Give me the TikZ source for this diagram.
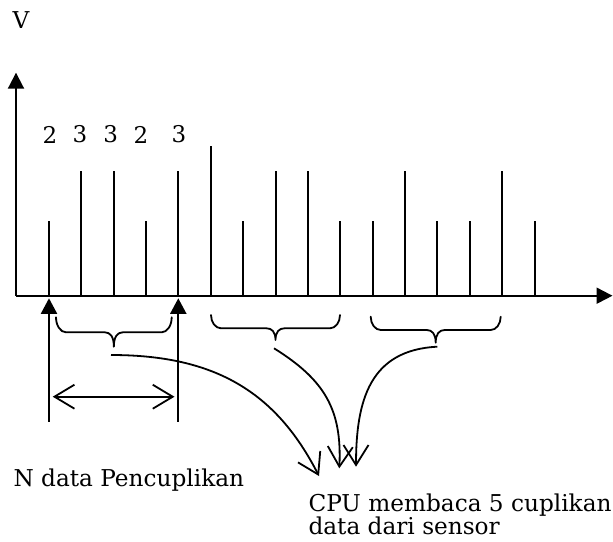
\documentclass[tikz,border=0pt]{standalone}
\usepackage{fontspec}
\setmainfont{DejaVu Serif}
\usetikzlibrary{arrows.meta}
\tikzset{
  axisline/.style={line width=2pt, -{Triangle[length=16pt,width=16pt]}},
  stemline/.style={line width=2pt},
  uparrow/.style={line width=2pt, -{Triangle[length=15.5pt,width=16pt]}},
  barbline/.style={line width=1.8pt, -{Straight Barb[length=20pt,width=25pt]}},
  dblarrow/.style={line width=1.8pt, {Straight Barb[length=20pt,width=24pt]}-{Straight Barb[length=20pt,width=24pt]}},
  txt/.style={inner sep=0pt, font=\fontsize{23.2}{27}\selectfont},
  numtxt/.style={inner sep=0pt, font=\fontsize{23}{27}\selectfont},
  pics/curly/.style n args={3}{code={
    \draw[line width=1.8pt, line join=round, line cap=round]
      (-#1,0) .. controls (-#1,{0.55*#2}) and ({-#1+4.5},#2) .. ({-#1+10},#2)
      -- (-9,#2) .. controls (-3.6,#2) and (0,{#2+0.3*(#3-#2)}) .. (0,#3)
      .. controls (0,{#2+0.3*(#3-#2)}) and (3.6,#2) .. (9,#2)
      -- ({#1-10},#2) .. controls ({#1-4.5},#2) and (#1,{0.55*#2}) .. (#1,0);
  }}
}
\begin{document}
\begin{tikzpicture}[x=1pt,y=-1pt]
\useasboundingbox (0,0) rectangle (613,541);
% axes
\coordinate (O) at (16,295.7);
\coordinate (Ytop) at (16,72.7);
\coordinate (Xend) at (612.5,295.7);
\draw[axisline] (O) -- (Ytop);
\draw[axisline] (O) -- (Xend);
\node[txt, anchor=base west] (V) at (12.5,28.3) {V};
% stems
\foreach \i/\h in {0/221,1/171,2/171,3/221,4/171,5/146.3,6/221,7/171,8/171,9/221,10/221,11/171,12/221,13/221,14/171,15/221}{
  \draw[stemline] ({48.9+32.38*\i},295.7) -- ({48.9+32.38*\i},\h);
}
% sample values
\node[numtxt] (n1) at (50,134.5) {2};
\node[numtxt] (n2) at (80,134.5) {3};
\node[numtxt] (n3) at (110.7,134.5) {3};
\node[numtxt] (n4) at (141,134.5) {2};
\node[numtxt] (n5) at (179,134.5) {3};
% window markers
\coordinate (a1b) at (49,421.7);
\coordinate (a1t) at (49,298.3);
\coordinate (a2b) at (178.3,421.7);
\coordinate (a2t) at (178.3,298.3);
\draw[uparrow] (a1b) -- (a1t);
\draw[uparrow] (a2b) -- (a2t);
\coordinate (d1) at (52.7,396.7);
\coordinate (d2) at (174.5,396.7);
\draw[dblarrow] (d1) -- (d2);
% braces
\pic at (113.85,317.3) {curly={57.85}{15}{29.4}};
\pic at (275.5,315) {curly={64.5}{13.3}{25}};
\pic at (435.7,316.7) {curly={65}{13.3}{26}};
% curved arrows
\coordinate (s1) at (111,355);
\coordinate (s2) at (274,348.3);
\coordinate (s3) at (437.3,346.7);
\coordinate (e1) at (319,476);
\coordinate (e2) at (339.3,468.3);
\coordinate (e3) at (356,466.7);
\draw[barbline] (s1) .. controls (215,355) and (276,392) .. (e1);
\draw[barbline] (s2) .. controls (325,380) and (342,410) .. (e2);
\draw[barbline] (s3) .. controls (370,350) and (356,400) .. (e3);
% labels
\node[txt, anchor=base west] (ndata) at (13.3,486.7) {N data Pencuplikan};
\node[txt, anchor=base west] (cpu1) at (308.3,511.7) {CPU membaca 5 cuplikan};
\node[txt, anchor=base west] (cpu2) at (308.3,534) {data dari sensor};
\end{tikzpicture}
\end{document}
